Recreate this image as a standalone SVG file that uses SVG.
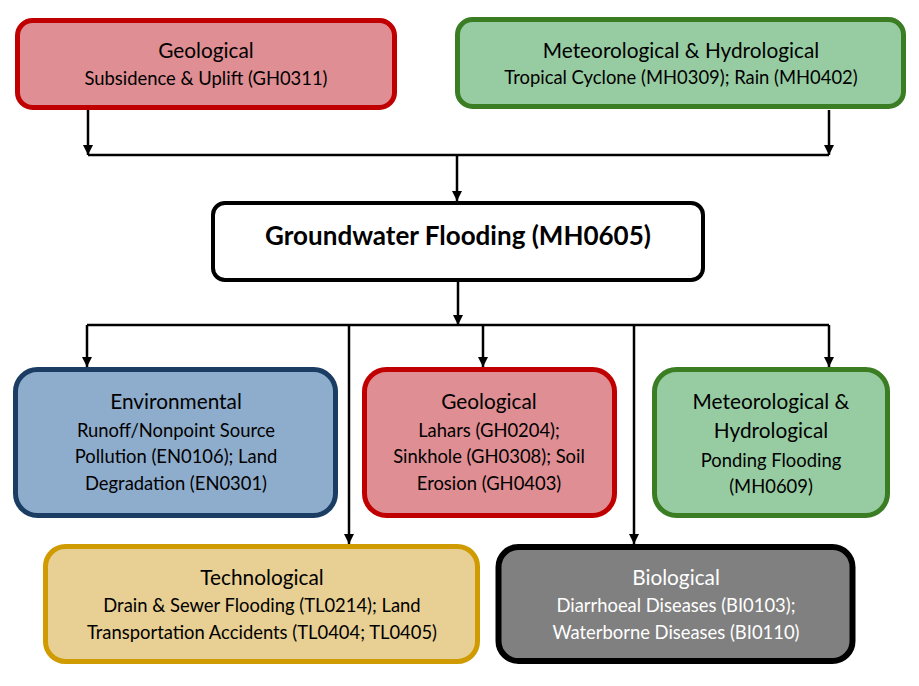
<svg xmlns="http://www.w3.org/2000/svg" width="919" height="686" viewBox="0 0 919 686">
<defs>
<marker id="ah" markerWidth="10" markerHeight="10" refX="10" refY="5" orient="auto" markerUnits="userSpaceOnUse">
<path d="M0,0 L10,5 L0,10 Z" fill="#000"/>
</marker>
<style>
text{font-family:Lato,"Open Sans","Liberation Sans",sans-serif;text-anchor:middle;fill:#000}
.t{font-size:20.8px}
.s{font-size:18.4px}
.w{fill:#fff}
.b{font-size:26px;font-weight:bold}
.red{fill:#DF8E93;stroke:#C00000;stroke-width:5}
.grn{fill:#97CCA2;stroke:#3B7D23;stroke-width:5}
.blu{fill:#8EADCC;stroke:#1B3D63;stroke-width:5}
.yel{fill:#E8CF93;stroke:#D09B00;stroke-width:5}
.gry{fill:#808080;stroke:#000;stroke-width:6}
.wht{fill:#fff;stroke:#000;stroke-width:4}
.c{fill:none;stroke:#000;stroke-width:2.5}
</style>
</defs>
<rect width="919" height="686" fill="#fff"/>
<g id="connectors">
<path class="c" d="M88,110 V155" marker-end="url(#ah)"/>
<path class="c" d="M829,110 V155" marker-end="url(#ah)"/>
<path class="c" d="M88,155 H829"/>
<path class="c" d="M457,155 V201" marker-end="url(#ah)"/>
<path class="c" d="M458,281 V325" marker-end="url(#ah)"/>
<path class="c" d="M87,325 H829"/>
<path class="c" d="M87,325 V367" marker-end="url(#ah)"/>
<path class="c" d="M483,325 V367" marker-end="url(#ah)"/>
<path class="c" d="M829,325 V367" marker-end="url(#ah)"/>
<path class="c" d="M349,325 V544" marker-end="url(#ah)"/>
<path class="c" d="M634,325 V544" marker-end="url(#ah)"/>
</g>
<g id="geo-top">
<rect class="red" x="17.5" y="20.5" width="377" height="87" rx="15"/>
<text class="t" x="206" y="58">Geological</text>
<text class="s" x="206" y="85">Subsidence &amp; Uplift (GH0311)</text>
</g>
<g id="met-top">
<rect class="grn" x="457.5" y="19.5" width="446" height="87" rx="15"/>
<text class="t" x="681" y="58">Meteorological &amp; Hydrological</text>
<text class="s" x="681" y="84">Tropical Cyclone (MH0309); Rain (MH0402)</text>
</g>
<g id="groundwater">
<rect class="wht" x="213" y="203" width="490" height="77" rx="12"/>
<text class="b" x="458" y="245">Groundwater Flooding (MH0605)</text>
</g>
<g id="environmental">
<rect class="blu" x="15.5" y="369.5" width="320" height="146" rx="22"/>
<text class="t" x="176" y="409">Environmental</text>
<text class="s" x="176" y="437">Runoff/Nonpoint Source</text>
<text class="s" x="176" y="463">Pollution (EN0106); Land</text>
<text class="s" x="176" y="490">Degradation (EN0301)</text>
</g>
<g id="geo-mid">
<rect class="red" x="364.5" y="369.5" width="250" height="146" rx="22"/>
<text class="t" x="489" y="409">Geological</text>
<text class="s" x="489" y="437">Lahars (GH0204);</text>
<text class="s" x="489" y="463">Sinkhole (GH0308); Soil</text>
<text class="s" x="489" y="490">Erosion (GH0403)</text>
</g>
<g id="met-mid">
<rect class="grn" x="654.5" y="369.5" width="233" height="146" rx="22"/>
<text class="t" x="771" y="409">Meteorological &amp;</text>
<text class="t" x="771" y="438">Hydrological</text>
<text class="s" x="771" y="467">Ponding Flooding</text>
<text class="s" x="771" y="493">(MH0609)</text>
</g>
<g id="technological">
<rect class="yel" x="45.5" y="546.5" width="432" height="115" rx="20"/>
<text class="t" x="262" y="585">Technological</text>
<text class="s" x="262" y="612">Drain &amp; Sewer Flooding (TL0214); Land</text>
<text class="s" x="262" y="639">Transportation Accidents (TL0404; TL0405)</text>
</g>
<g id="biological">
<rect class="gry" x="498.5" y="547" width="354" height="114" rx="20"/>
<text class="t w" x="676" y="585">Biological</text>
<text class="s w" x="676" y="612">Diarrhoeal Diseases (BI0103);</text>
<text class="s w" x="676" y="639">Waterborne Diseases (BI0110)</text>
</g>
</svg>
